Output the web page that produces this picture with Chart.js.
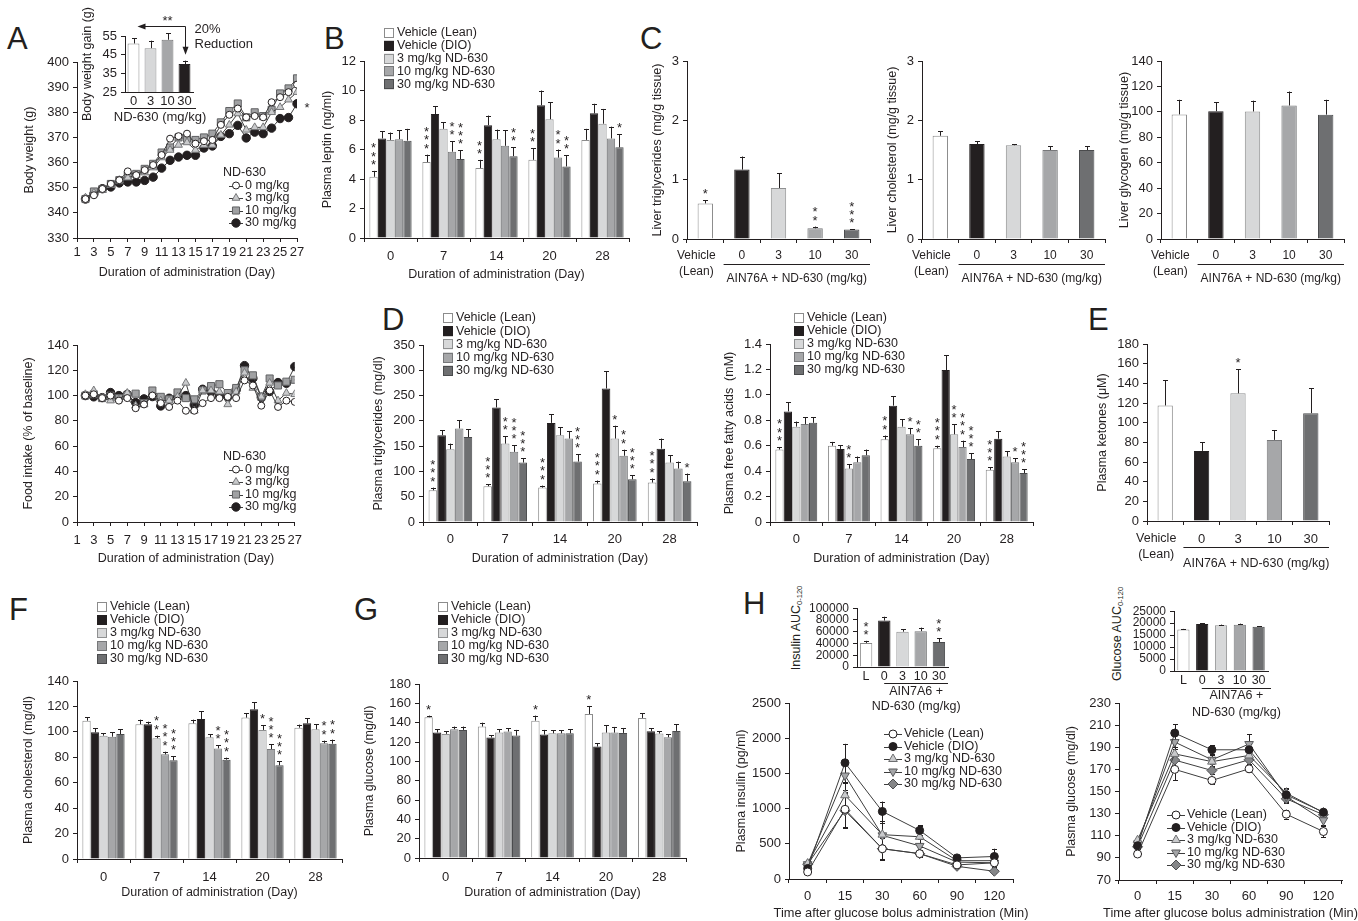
<!DOCTYPE html>
<html>
<head>
<meta charset="utf-8">
<title>ND-630 metabolic panels</title>
<script src="https://cdn.jsdelivr.net/npm/chart.js@4.4.1/dist/chart.umd.min.js"></script>
<style>
  html, body { margin: 0; padding: 0; background: #fff; }
  body { position: relative; width: 1358px; height: 921px; overflow: hidden;
         font-family: 'Liberation Sans', Arial, sans-serif; color: #231f20; }
  .box { position: absolute; }
  .box canvas { display: block; }
  .tag { position: absolute; font-size: 31px; line-height: 31px; }
  .vt { position: absolute; white-space: nowrap; font-size: 12.5px; line-height: 15px;
        transform: translate(-50%, -50%) rotate(-90deg); }
  .vt sub { font-size: 7.5px; vertical-align: -2px; }
</style>
</head>
<body>
<div class="tag" style="left:7px;top:23px">A</div>
<div class="tag" style="left:324px;top:23px">B</div>
<div class="tag" style="left:640px;top:23px">C</div>
<div class="tag" style="left:382px;top:304px">D</div>
<div class="tag" style="left:1088px;top:304px">E</div>
<div class="tag" style="left:9px;top:594px">F</div>
<div class="tag" style="left:354px;top:594px">G</div>
<div class="tag" style="left:743px;top:588px">H</div>
<div class="vt" style="left:798px;top:628px">Insulin AUC<sub>0-120</sub></div>
<div class="vt" style="left:1119px;top:634px">Glucose AUC<sub>0-120</sub></div>

<script>
var FONT = "'Liberation Sans', Arial, Helvetica, sans-serif";
var INK = '#231f20';

//---------------------------------------------------------------- data
// A: body weight and food intake, days 2..27
var studyDays = [2, 3, 4, 5, 6, 7, 8, 9, 10, 11, 12, 13, 14, 15, 16, 17, 18, 19, 20, 21, 22, 23, 24, 25, 26, 27];
var doseNames = ['0 mg/kg', '3 mg/kg', '10 mg/kg', '30 mg/kg'];
var bodyWeight0  = [345.5, 347, 349.5, 351.5, 353, 356.5, 355, 357, 359, 363, 369.5, 370.5, 371.5, 367.5, 368.5, 369, 375, 379, 381.5, 378, 378.5, 378, 384, 386, 388, 391];
var bodyWeight3  = [346, 348, 349, 351, 353, 354, 355, 356, 358, 362, 365, 367, 368, 365, 367, 367, 371, 375, 379.5, 373, 374, 374, 380, 382, 385, 388];
var bodyWeight10 = [345.5, 348.5, 349.5, 351.5, 353, 355, 355.5, 357.5, 359.5, 364, 366, 370, 369.5, 369, 370, 371.5, 376, 380.5, 383.5, 378, 380, 378.5, 381, 387.5, 389.5, 393.5];
var bodyWeight30 = [345.5, 347.6, 349.6, 350.3, 351.9, 352.3, 352.3, 352.9, 354.2, 357.8, 360.9, 362.2, 362.9, 362.9, 365.8, 366.6, 370.4, 371.5, 374.8, 369.8, 372.1, 371.5, 373.7, 377.5, 377.9, 383.4];
var foodIntake0  = [100, 101, 98, 100, 96, 98, 90, 93, 100, 94, 91, 96, 88, 88, 94, 98, 98, 99, 98, 112, 108, 92, 104, 91, 96, 95];
var foodIntake3  = [101, 104, 98, 96, 97, 102, 92, 93, 100, 96, 96, 99, 110, 88, 104, 104, 103, 93, 103, 118, 106, 99, 110, 96, 102, 101];
var foodIntake10 = [100, 101, 98, 100, 98, 100, 101.5, 94, 104, 99, 97, 102.5, 98, 97, 104, 107.5, 109, 102, 106, 120, 116, 99, 113.5, 108, 111, 112.5];
var foodIntake30 = [100, 99, 98.4, 102.4, 100, 101, 94.5, 97.4, 99.2, 91.8, 97.9, 98.4, 100, 92.6, 105, 102.9, 100, 99.2, 104.5, 123.7, 113.7, 98.7, 103.2, 110.3, 109.7, 122.9];
var gainLabels = ['0', '3', '10', '30'];
var gainMean = [51, 48.5, 53, 40];
var gainErr = [2.8, 4, 3.5, 1.8];

// grouped bar panels (rows = treatment group, columns = day)
var groupNames = ['Vehicle (Lean)', 'Vehicle (DIO)', '3 mg/kg ND-630', '10 mg/kg ND-630', '30 mg/kg ND-630'];
var sampleDays = ['0', '7', '14', '20', '28'];
var leptinMean  = [[4.15, 5.15, 4.75, 5.3, 6.65], [6.75, 8.4, 7.65, 9.0, 8.45], [6.65, 7.4, 6.7, 8.05, 7.75], [6.7, 5.85, 6.25, 5.45, 6.75], [6.6, 5.35, 5.55, 4.85, 6.15]];
var leptinErr   = [[0.4, 0.5, 0.55, 0.8, 0.75], [0.5, 0.55, 0.65, 1.0, 0.65], [0.5, 0.45, 0.65, 1.15, 1.0], [0.6, 0.7, 1.05, 0.55, 0.8], [0.8, 0.6, 0.6, 0.75, 0.9]];
var leptinStars = [[3, 3, 2, 2, 0], [0, 0, 0, 0, 0], [0, 0, 0, 0, 0], [0, 2, 0, 2, 0], [0, 3, 2, 2, 1]];
var tgMean  = [[62.7, 70.7, 68, 76, 78], [171.7, 226.5, 196, 264, 145], [144, 155, 171.7, 165, 117.6], [185, 138.7, 165, 131, 105.7], [168, 117.6, 119.5, 84.5, 80.6]];
var tgErr   = [[5.3, 3.9, 4, 6, 8], [10, 16, 17, 34.5, 20], [11, 14.6, 15.3, 25.4, 14.4], [16, 13.3, 15, 12, 13.8], [15, 8, 14.5, 8, 15.2]];
var tgStars = [[3, 3, 3, 3, 3], [0, 0, 0, 0, 0], [0, 2, 0, 1, 0], [0, 3, 0, 2, 0], [0, 3, 3, 3, 1]];
var ffaMean  = [[0.57, 0.60, 0.65, 0.58, 0.41], [0.87, 0.575, 0.915, 1.195, 0.655], [0.75, 0.42, 0.75, 0.69, 0.515], [0.77, 0.47, 0.69, 0.59, 0.47], [0.78, 0.525, 0.60, 0.495, 0.385]];
var ffaErr   = [[0.02, 0.03, 0.03, 0.02, 0.02], [0.07, 0.03, 0.075, 0.115, 0.06], [0.04, 0.035, 0.06, 0.08, 0.04], [0.055, 0.045, 0.05, 0.05, 0.03], [0.045, 0.045, 0.05, 0.045, 0.03]];
var ffaStars = [[3, 0, 2, 3, 3], [0, 0, 0, 0, 0], [0, 2, 0, 2, 0], [0, 0, 1, 3, 1], [0, 0, 2, 3, 3]];
var cholMean  = [[108.8, 106, 106.7, 111.2, 103.3], [99.6, 106, 110.1, 117.7, 106.7], [97, 95, 95.7, 101.5, 102], [96.2, 82.3, 87, 86.5, 91], [98.3, 77.6, 78.1, 73.7, 90.7]];
var cholErr   = [[2.6, 3.6, 2.9, 3.4, 2.4], [3.2, 2, 6, 5.5, 3.9], [1.8, 2, 2.3, 3.9, 4], [3.4, 2.1, 2.4, 3.7, 2.1], [3.7, 3.2, 1.6, 3.1, 3.2]];
var cholStars = [[0, 0, 0, 0, 0], [0, 0, 0, 0, 0], [0, 2, 0, 1, 0], [0, 3, 2, 3, 2], [0, 3, 3, 3, 2]];
var glucoseMean  = [[145.6, 136, 142.1, 149, 144.9], [129.8, 124.6, 127.7, 115.3, 131.1], [128.4, 129.8, 129, 129.7, 128.7], [133.2, 130.8, 129, 129.7, 124.9], [132.5, 126.6, 129, 129.4, 131.5]];
var glucoseErr   = [[1.7, 4, 5.2, 8.3, 4.8], [3.4, 2.4, 4.8, 3.4, 3.1], [2.7, 3.4, 3.2, 7.6, 2.4], [2.8, 3.4, 3.2, 5.9, 3.1], [3.5, 5.9, 4.2, 5.1, 6.8]];
var glucoseStars = [[1, 0, 1, 1, 0], [0, 0, 0, 0, 0], [0, 0, 0, 0, 0], [0, 0, 0, 0, 0], [0, 0, 0, 0, 0]];

// C and E: single timepoint
var liverLabels = [['Vehicle', '(Lean)'], '0', '3', '10', '30'];
var liverTgMean = [0.6, 1.17, 0.86, 0.18, 0.16];
var liverTgErr = [0.05, 0.22, 0.25, 0.03, 0.005];
var liverTgStars = [1, 0, 0, 2, 3];
var liverCholMean = [1.74, 1.6, 1.58, 1.5, 1.5];
var liverCholErr = [0.08, 0.05, 0.015, 0.06, 0.06];
var liverGlyMean = [98, 100.5, 100.3, 105, 97.8];
var liverGlyErr = [11.5, 7, 8.5, 11, 11.7];
var ketoneMean = [117.5, 71.3, 129.8, 82.5, 109.7];
var ketoneErr = [25.8, 8.9, 24.7, 9.9, 25.5];
var ketoneStars = [0, 0, 1, 0, 0];

// H: glucose bolus
var aucLabels = ['L', '0', '3', '10', '30'];
var insulinAucMean = [41000, 79000, 60000, 61000, 42500];
var insulinAucErr = [3500, 6500, 4000, 6000, 6500];
var insulinAucStars = [2, 0, 0, 0, 2];
var glucoseAucMean = [17300, 19600, 19100, 19300, 18500];
var glucoseAucErr = [300, 300, 300, 500, 250];
var bolusMinutes = ['0', '15', '30', '60', '90', '120'];
var insulinMean = [[100, 990, 430, 360, 200, 230], [150, 1650, 960, 690, 300, 320], [220, 1190, 630, 600, 260, 260], [210, 1470, 620, 470, 240, 230], [210, 970, 430, 360, 180, 110]];
var insulinErr  = [[30, 250, 150, 40, 30, 60], [40, 270, 140, 70, 30, 110], [30, 170, 200, 150, 40, 80], [30, 200, 180, 100, 40, 60], [30, 250, 160, 50, 30, 30]];
var bolusGlucoseMean = [[93.5, 170, 160, 170.5, 129.5, 113.8], [101, 202.8, 187.7, 187.7, 147, 131.3], [106, 184, 177, 182.6, 148.5, 131], [103, 194.7, 178.7, 192.9, 145.5, 124], [100, 178.4, 169, 178.7, 143.4, 129]];
var bolusGlucoseErr  = [[2, 10, 3, 3, 4, 5], [2, 8, 4, 5, 5, 3], [2, 6, 4, 4, 5, 3], [2, 6, 4, 9, 5, 4], [2, 6, 3, 4, 4, 3]];

//---------------------------------------------------------------- styles
var fills = ['#ffffff', '#231f20', '#d7d8d9', '#a6a7a9', '#6e6f71'];
var edges = ['#8c8c8c', '#231f20', '#8f9091', '#77787a', '#4a4b4d'];
var doseMarks = [
    { pointStyle: 'circle', radius: 3.5, fill: '#ffffff', edge: INK },
    { pointStyle: 'triangle', radius: 4.5, fill: '#c9cacc', edge: '#77787a' },
    { pointStyle: 'rect', radius: 5, fill: '#a0a1a3', edge: '#606163' },
    { pointStyle: 'circle', radius: 4.2, fill: INK, edge: INK }
];
var bolusMarks = [
    { pointStyle: 'circle', radius: 4, fill: '#ffffff', edge: INK },
    { pointStyle: 'circle', radius: 4, fill: INK, edge: INK },
    { pointStyle: 'triangle', radius: 5, fill: '#c9cacc', edge: '#6d6e70' },
    { pointStyle: 'triangle', rotation: 180, radius: 5, fill: '#a5a6a8', edge: '#58595b' },
    { pointStyle: 'rectRot', radius: 5, fill: '#858688', edge: '#4d4e50' }
];

Chart.defaults.font.family = FONT;
Chart.defaults.font.size = 13;
Chart.defaults.color = INK;
Chart.defaults.animation = false;
Chart.defaults.plugins.legend.display = false;
Chart.defaults.plugins.tooltip.enabled = false;

//---------------------------------------------------------------- plugins
// error bars (bars: upward only, lines: both ways) and significance stars
function drawErrors(chart, forLines) {
    var ctx = chart.ctx, ys = chart.scales.y;
    var isLine = chart.config.type === 'line';
    if (isLine !== forLines) return;
    chart.data.datasets.forEach(function (ds, i) {
        var meta = chart.getDatasetMeta(i);
        ctx.save();
        ctx.strokeStyle = INK;
        ctx.fillStyle = INK;
        ctx.lineWidth = 1;
        ctx.font = '13px ' + FONT;
        ctx.textAlign = 'center';
        ctx.textBaseline = 'alphabetic';
        meta.data.forEach(function (el, j) {
            var v = ds.data[j];
            if (typeof v === 'object') v = v.y;
            var top = el.y;
            if (ds.errors) {
                var e = ds.errors[j];
                var x = Math.round(el.x) + 0.5;
                top = ys.getPixelForValue(v + e);
                var bot = isLine ? ys.getPixelForValue(v - e) : el.y;
                ctx.beginPath();
                ctx.moveTo(x, bot); ctx.lineTo(x, top);
                ctx.moveTo(x - 2.5, Math.round(top) + 0.5); ctx.lineTo(x + 2.5, Math.round(top) + 0.5);
                if (isLine) { ctx.moveTo(x - 2.5, Math.round(bot) + 0.5); ctx.lineTo(x + 2.5, Math.round(bot) + 0.5); }
                ctx.stroke();
            }
            var n = ds.stars ? ds.stars[j] : 0;
            for (var k = 0; k < n; k++) {
                ctx.fillText('*', el.x, top - 10 - k * 8.3 + 8);
            }
        });
        if (ds.tailStar) {
            var last = meta.data[meta.data.length - 1];
            ctx.fillText('*', last.x + 10, last.y + 8);
        }
        ctx.restore();
    });
}
var errorBars = {
    id: 'errorBars',
    beforeDatasetsDraw: function (chart) { drawErrors(chart, true); },
    afterDatasetsDraw: function (chart) { drawErrors(chart, false); }
};

// in-plot key, boxes for bar charts, line+marker for line charts
var keyBox = {
    id: 'keyBox',
    afterDraw: function (chart, args, o) {
        if (!o || !o.kind) return;
        var ctx = chart.ctx, a = chart.chartArea;
        var x = a.left + o.x, y = a.top + o.y;
        ctx.save();
        ctx.font = (o.size || 12.5) + 'px ' + FONT;
        ctx.textBaseline = 'middle';
        ctx.textAlign = 'left';
        ctx.fillStyle = INK;
        if (o.head) { ctx.fillText(o.head, x + o.hx, y); y += o.dy; }
        chart.data.datasets.forEach(function (ds) {
            if (o.kind === 'box') {
                ctx.fillStyle = ds.backgroundColor;
                ctx.fillRect(x, y - 5, 10, 10);
                ctx.strokeStyle = ds.borderColor;
                ctx.lineWidth = 1;
                ctx.strokeRect(x + 0.5, Math.round(y - 5) + 0.5, 9, 9);
            } else {
                ctx.strokeStyle = ds.borderColor;
                ctx.lineWidth = 1;
                ctx.beginPath();
                ctx.moveTo(x - o.half, Math.round(y) + 0.5);
                ctx.lineTo(x + o.half, Math.round(y) + 0.5);
                ctx.stroke();
                ctx.fillStyle = ds.pointBackgroundColor;
                ctx.strokeStyle = ds.pointBorderColor;
                Chart.helpers.drawPoint(ctx, { pointStyle: ds.pointStyle, rotation: ds.pointRotation || 0, radius: ds.pointRadius, borderWidth: 1 }, x, y);
            }
            ctx.fillStyle = INK;
            ctx.fillText(ds.label, x + o.tx, y);
            y += o.dy;
        });
        ctx.restore();
    }
};

// bracket line + text under the category axis, plus the shifted first label
var groupAxis = {
    id: 'groupAxis',
    afterDraw: function (chart, args, o) {
        if (!o || !o.lines) return;
        var ctx = chart.ctx, a = chart.chartArea, xs = chart.scales.x;
        var x0 = (o.from === undefined ? a.left : xs.getPixelForValue(o.from)) + (o.dx0 || 0);
        var x1 = a.right + (o.dx1 || 0);
        ctx.save();
        ctx.strokeStyle = INK;
        ctx.fillStyle = INK;
        ctx.lineWidth = 1;
        if (o.lineY !== undefined) {
            var ly = Math.round(a.bottom + o.lineY) + 0.5;
            ctx.beginPath(); ctx.moveTo(x0, ly); ctx.lineTo(x1, ly); ctx.stroke();
        }
        ctx.font = (o.size || 12) + 'px ' + FONT;
        ctx.textAlign = 'center';
        ctx.textBaseline = 'middle';
        o.lines.forEach(function (t, k) {
            ctx.fillText(t, (x0 + x1) / 2, a.bottom + o.textY + k * o.dy);
        });
        if (o.lead) {
            var lx = xs.getPixelForValue(0) + o.lead.dx;
            ctx.font = o.lead.size + 'px ' + FONT;
            [].concat(chart.data.labels[0]).forEach(function (t, k) {
                ctx.fillText(t, lx, a.bottom + o.lead.y + k * o.lead.dy);
            });
        }
        ctx.restore();
    }
};

// arrow and "20% Reduction" note above the weight-gain inset
var gainNote = {
    id: 'gainNote',
    afterDraw: function (chart) {
        var ctx = chart.ctx, meta = chart.getDatasetMeta(0), ys = chart.scales.y;
        var x0 = meta.data[0].x, x3 = Math.round(meta.data[3].x) + 0.5;
        var ay = Math.round(chart.chartArea.top - 10) + 0.5;
        var tip = ys.getPixelForValue(gainMean[3] + gainErr[3]) - 6;
        ctx.save();
        ctx.strokeStyle = INK; ctx.fillStyle = INK; ctx.lineWidth = 1;
        ctx.beginPath();
        ctx.moveTo(x3, ay); ctx.lineTo(x0 + 10, ay);
        ctx.moveTo(x3, ay); ctx.lineTo(x3, tip - 6);
        ctx.stroke();
        ctx.beginPath(); ctx.moveTo(x0 + 4, ay); ctx.lineTo(x0 + 12, ay - 3); ctx.lineTo(x0 + 12, ay + 3); ctx.closePath(); ctx.fill();
        ctx.beginPath(); ctx.moveTo(x3, tip); ctx.lineTo(x3 - 3, tip - 8); ctx.lineTo(x3 + 3, tip - 8); ctx.closePath(); ctx.fill();
        ctx.font = '13px ' + FONT;
        ctx.textAlign = 'center';
        ctx.fillText('**', (x0 + x3) / 2 + 8, ay - 10 + 8);
        ctx.textAlign = 'left';
        ctx.textBaseline = 'middle';
        ctx.fillText('20%', x3 + 9, ay + 3);
        ctx.fillText('Reduction', x3 + 9, ay + 18);
        ctx.restore();
    }
};

Chart.register(errorBars, keyBox, groupAxis);

//---------------------------------------------------------------- helpers
function makeChart(g, config) {
    var L = Math.round(g.tx !== undefined ? g.l - g.tx + 11.5 : g.yw);
    var B = Math.round(g.ty !== undefined ? g.ty + 11.5 - g.b : g.xh);
    var T = g.pt, R = g.pr;
    var W = L + (g.r - g.l) + R, H = T + (g.b - g.t) + B;
    var box = document.createElement('div');
    box.className = 'box';
    box.style.left = (g.l - L) + 'px';
    box.style.top = (g.t - T) + 'px';
    box.style.width = W + 'px';
    box.style.height = H + 'px';
    var cv = document.createElement('canvas');
    cv.width = W; cv.height = H;
    cv.style.width = W + 'px'; cv.style.height = H + 'px';
    box.appendChild(cv);
    document.body.appendChild(box);
    var op = config.options;
    op.responsive = false;
    op.maintainAspectRatio = false;
    op.layout = { padding: { left: 0, top: T, right: R, bottom: 0 } };
    op.scales.x.afterFit = function (s) { s.height = B; };
    op.scales.y.afterFit = function (s) { s.width = L; };
    return new Chart(cv, config);
}

function plainNumber(v) { return String(v); }

function yLin(min, max, step, title, size, fmt) {
    return {
        type: 'linear', min: min, max: max,
        border: { display: true, color: INK, width: 1 },
        grid: { drawOnChartArea: false, drawTicks: true, tickLength: 4, color: INK },
        ticks: { stepSize: step, padding: 4, color: INK, font: { size: size || 13 }, autoSkip: false, callback: fmt || plainNumber },
        title: { display: !!title, text: title || '', color: INK, font: { size: 12.5 } }
    };
}

function xCat(pad, size, title, drawTicks, skipFirst) {
    var s = {
        type: 'category', offset: true,
        border: { display: true, color: INK, width: 1 },
        grid: { drawOnChartArea: false, drawTicks: drawTicks !== false, tickLength: 4, color: INK, offset: true },
        ticks: { padding: pad, color: INK, font: { size: size || 13, lineHeight: 1.3 }, maxRotation: 0, autoSkip: false },
        title: { display: !!title, text: title || '', color: INK, font: { size: 12.5 } }
    };
    if (skipFirst) {
        s.ticks.callback = function (v, i) { return i === 0 ? '' : this.getLabelForValue(v); };
    }
    return s;
}

function xDays(pad) {
    return {
        type: 'linear', min: 1, max: 27,
        border: { display: true, color: INK, width: 1 },
        grid: { drawOnChartArea: false, drawTicks: true, tickLength: 4, color: INK },
        ticks: { stepSize: 2, padding: pad, color: INK, maxRotation: 0, autoSkip: false },
        title: { display: true, text: 'Duration of administration (Day)', color: INK, font: { size: 12.5 } }
    };
}

function barSets(means, errs, stars) {
    return means.map(function (m, i) {
        return {
            label: groupNames[i], data: m, errors: errs[i], stars: stars[i],
            backgroundColor: fills[i], borderColor: edges[i], borderWidth: 1,
            categoryPercentage: 0.8, barPercentage: 0.98
        };
    });
}

function singleBar(mean, err, stars, width) {
    return {
        data: mean, errors: err, stars: stars || null,
        backgroundColor: fills, borderColor: edges, borderWidth: 1,
        categoryPercentage: 1, barPercentage: width
    };
}

function lineSet(label, data, mark, errs) {
    return {
        label: label, data: data, errors: errs || null,
        borderColor: '#3d3d3d', borderWidth: 1, tension: 0, fill: false,
        pointStyle: mark.pointStyle, pointRotation: mark.rotation || 0, pointRadius: mark.radius,
        pointBackgroundColor: mark.fill, pointBorderColor: mark.edge, pointBorderWidth: 1
    };
}

function byDay(values) {
    return studyDays.map(function (d, i) { return { x: d, y: values[i] }; });
}

//---------------------------------------------------------------- A
var weightSets = [bodyWeight0, bodyWeight3, bodyWeight10, bodyWeight30].map(function (v, i) {
    return lineSet(doseNames[i], byDay(v), doseMarks[i]);
});
weightSets[3].tailStar = true;
makeChart({ l: 77, t: 62, r: 297, b: 238, tx: 30, ty: 272, pt: 12, pr: 18 }, {
    type: 'line',
    data: { datasets: weightSets },
    options: {
        scales: { x: xDays(3), y: yLin(330, 400, 10, 'Body weight (g)') },
        plugins: { keyBox: { kind: 'line', head: 'ND-630', hx: -13, x: 159, y: 111, dy: 12.5, half: 7, tx: 9, size: 12.5 } }
    }
});

makeChart({ l: 125, t: 36, r: 193, b: 92, tx: 88, xh: 38, pt: 30, pr: 66 }, {
    type: 'bar',
    data: {
        labels: gainLabels,
        datasets: [{
            data: gainMean, errors: gainErr,
            backgroundColor: [fills[0], fills[2], fills[3], fills[1]],
            borderColor: [edges[0], edges[2], edges[3], edges[1]],
            borderWidth: 1, categoryPercentage: 1, barPercentage: 0.7
        }]
    },
    options: {
        scales: { x: xCat(1, 13, '', false), y: yLin(25, 55, 10, 'Body weight gain (g)') },
        plugins: { groupAxis: { lines: ['ND-630 (mg/kg)'], lineY: 16, dx0: -1, dx1: 3, textY: 25, dy: 0, size: 13 } }
    },
    plugins: [gainNote]
});

makeChart({ l: 77, t: 345, r: 297, b: 522, tx: 29, ty: 558, pt: 12, pr: 12 }, {
    type: 'line',
    data: {
        datasets: [foodIntake0, foodIntake3, foodIntake10, foodIntake30].map(function (v, i) {
            return lineSet(doseNames[i], byDay(v), doseMarks[i]);
        })
    },
    options: {
        scales: { x: xDays(7), y: yLin(0, 140, 20, 'Food intake (% of baseline)') },
        plugins: { keyBox: { kind: 'line', head: 'ND-630', hx: -13, x: 159, y: 112, dy: 12.5, half: 7, tx: 9, size: 12.5 } }
    }
});

//---------------------------------------------------------------- B
makeChart({ l: 364, t: 61, r: 629, b: 238, tx: 328, ty: 274, pt: 36, pr: 8 }, {
    type: 'bar',
    data: { labels: sampleDays, datasets: barSets(leptinMean, leptinErr, leptinStars) },
    options: {
        scales: { x: xCat(6, 13, 'Duration of administration (Day)'), y: yLin(0, 12, 2, 'Plasma leptin (ng/ml)') },
        plugins: { keyBox: { kind: 'box', x: 20, y: -28, dy: 12.8, tx: 13 } }
    }
});

//---------------------------------------------------------------- C
var liverPanels = [
    { l: 687, r: 870, tx: 658, mean: liverTgMean, err: liverTgErr, stars: liverTgStars, max: 3, step: 1, title: 'Liver triglycerides (mg/g tissue)' },
    { l: 922, r: 1105, tx: 893, mean: liverCholMean, err: liverCholErr, stars: null, max: 3, step: 1, title: 'Liver cholesterol (mg/g tissue)' },
    { l: 1161, r: 1344, tx: 1125, mean: liverGlyMean, err: liverGlyErr, stars: null, max: 140, step: 20, title: 'Liver glycogen (mg/g tissue)' }
];
liverPanels.forEach(function (p) {
    makeChart({ l: p.l, t: 61, r: p.r, b: 239, tx: p.tx, xh: 52, pt: 12, pr: 6 }, {
        type: 'bar',
        data: { labels: liverLabels, datasets: [singleBar(p.mean, p.err, p.stars, 0.42)] },
        options: {
            scales: { x: xCat(5, 12, '', true, true), y: yLin(0, p.max, p.step, p.title) },
            plugins: { groupAxis: { from: 0.5, lineY: 25, lines: ['AIN76A + ND-630 (mg/kg)'], textY: 40, dy: 0, size: 12,
                lead: { dx: -9, y: 17, dy: 15.6, size: 12 } } }
        }
    });
});

//---------------------------------------------------------------- D
makeChart({ l: 423, t: 345, r: 697, b: 522, tx: 379, ty: 558, pt: 40, pr: 6 }, {
    type: 'bar',
    data: { labels: sampleDays, datasets: barSets(tgMean, tgErr, tgStars) },
    options: {
        scales: { x: xCat(5, 13, 'Duration of administration (Day)'), y: yLin(0, 350, 50, 'Plasma triglycerides (mg/dl)') },
        plugins: { keyBox: { kind: 'box', x: 20, y: -27, dy: 13.2, tx: 13 } }
    }
});

makeChart({ l: 770, t: 344, r: 1033, b: 522, tx: 730, ty: 558, pt: 40, pr: 6 }, {
    type: 'bar',
    data: { labels: sampleDays, datasets: barSets(ffaMean, ffaErr, ffaStars) },
    options: {
        scales: {
            x: xCat(5, 13, 'Duration of administration (Day)'),
            y: yLin(0, 1.4, 0.2, 'Plasma free fatty acids  (mM)', 13, function (v) { return v === 0 ? '0' : v.toFixed(1); })
        },
        plugins: { keyBox: { kind: 'box', x: 24, y: -26, dy: 13, tx: 13 } }
    }
});

//---------------------------------------------------------------- E
makeChart({ l: 1147, t: 344, r: 1329, b: 521, tx: 1103, xh: 56, pt: 12, pr: 6 }, {
    type: 'bar',
    data: { labels: liverLabels, datasets: [singleBar(ketoneMean, ketoneErr, ketoneStars, 0.42)] },
    options: {
        scales: { x: xCat(6, 13, '', true, true), y: yLin(0, 180, 20, 'Plasma ketones (\u03bcM)') },
        plugins: { groupAxis: { from: 0.5, lineY: 26, lines: ['AIN76A + ND-630 (mg/kg)'], textY: 43, dy: 0, size: 12.5,
            lead: { dx: -9, y: 18, dy: 16, size: 12.5 } } }
    }
});

//---------------------------------------------------------------- F and G
makeChart({ l: 77, t: 681, r: 342, b: 859, tx: 29, ty: 892, pt: 90, pr: 8 }, {
    type: 'bar',
    data: { labels: sampleDays, datasets: barSets(cholMean, cholErr, cholStars) },
    options: {
        scales: { x: xCat(6, 13, 'Duration of administration (Day)'), y: yLin(0, 140, 20, 'Plasma cholesterol (mg/dl)') },
        plugins: { keyBox: { kind: 'box', x: 20, y: -74, dy: 13, tx: 13 } }
    }
});

makeChart({ l: 419, t: 684, r: 686, b: 858, tx: 370, ty: 892, pt: 90, pr: 8 }, {
    type: 'bar',
    data: { labels: sampleDays, datasets: barSets(glucoseMean, glucoseErr, glucoseStars) },
    options: {
        scales: { x: xCat(7, 13, 'Duration of administration (Day)'), y: yLin(0, 180, 20, 'Plasma glucose (mg/dl)') },
        plugins: { keyBox: { kind: 'box', x: 19, y: -77, dy: 13, tx: 13 } }
    }
});

//---------------------------------------------------------------- H
makeChart({ l: 857, t: 603, r: 948, b: 667, yw: 50, xh: 48, pt: 6, pr: 24 }, {
    type: 'bar',
    data: { labels: aucLabels, datasets: [singleBar(insulinAucMean, insulinAucErr, insulinAucStars, 0.68)] },
    options: {
        scales: { x: xCat(1, 12.5, '', false), y: yLin(0, 100000, 20000, '', 12) },
        plugins: { groupAxis: { from: 0.5, dx0: 9, lineY: 16, lines: ['AIN7A6 +', 'ND-630 (mg/kg)'], textY: 25, dy: 15, size: 12.5 } }
    }
});

makeChart({ l: 1174, t: 606, r: 1268, b: 671, yw: 50, xh: 50, pt: 6, pr: 24 }, {
    type: 'bar',
    data: { labels: aucLabels, datasets: [singleBar(glucoseAucMean, glucoseAucErr, null, 0.65)] },
    options: {
        scales: { x: xCat(1, 12.5, '', false), y: yLin(0, 25000, 5000, '', 12) },
        plugins: { groupAxis: { from: 0.5, dx0: 9, dx1: 3, lineY: 17, lines: ['AIN7A6 +', 'ND-630 (mg/kg)'], textY: 25, dy: 17, size: 12.5 } }
    }
});

function bolusSets(means, errs) {
    return means.map(function (m, i) { return lineSet(groupNames[i], m, bolusMarks[i], errs[i]); });
}

makeChart({ l: 789, t: 703, r: 1013, b: 879, tx: 742, xh: 46, pt: 12, pr: 24 }, {
    type: 'line',
    data: { labels: bolusMinutes, datasets: bolusSets(insulinMean, insulinErr) },
    options: {
        scales: { x: xCat(5, 13), y: yLin(0, 2500, 500, 'Plasma insulin (pg/ml)') },
        plugins: {
            keyBox: { kind: 'line', x: 104, y: 31, dy: 12.5, half: 9, tx: 11 },
            groupAxis: { lines: ['Time after glucose bolus administration (Min)'], textY: 34, dy: 0, size: 12.8 }
        }
    }
});

makeChart({ l: 1119, t: 703, r: 1342, b: 880, tx: 1072, xh: 46, pt: 12, pr: 16 }, {
    type: 'line',
    data: { labels: bolusMinutes, datasets: bolusSets(bolusGlucoseMean, bolusGlucoseErr) },
    options: {
        scales: { x: xCat(4, 13), y: yLin(70, 230, 20, 'Plasma glucose (mg/dl)') },
        plugins: {
            keyBox: { kind: 'line', x: 57, y: 112, dy: 12.5, half: 9, tx: 11 },
            groupAxis: { lines: ['Time after glucose bolus administration (Min)'], textY: 33, dy: 0, size: 12.8 }
        }
    }
});
</script>
</body>
</html>
